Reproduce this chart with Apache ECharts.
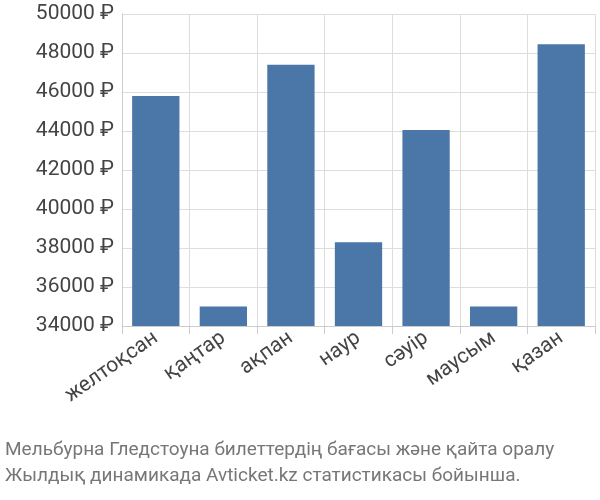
<!DOCTYPE html>
<html><head><meta charset="utf-8">
<script src="https://cdn.jsdelivr.net/npm/echarts@6/dist/echarts.min.js"></script>
<style>html,body{margin:0;padding:0;background:#fff}#c{width:600px;height:500px}</style>
</head><body><div id="c"></div>
<script>
const categories = ["желтоқсан","қаңтар","ақпан","наур","сәуір","маусым","қазан"];
const values = [45800, 35000, 47400, 38300, 44050, 35000, 48450];
const titleLines = ["Мельбурна Гледстоуна билеттердің бағасы және қайта оралу","Жылдық динамикада Avticket.kz статистикасы бойынша."];
const chart = echarts.init(document.getElementById('c'));
chart.setOption({
  animation:false,
  grid:{left:122,right:5,top:14,bottom:174},
  title:{text:titleLines.join('\n'),left:0,top:432,
    textStyle:{color:'#777',fontSize:19,fontWeight:'normal',fontFamily:'Roboto',lineHeight:26}},
  xAxis:{type:'category',data:categories,
    axisLine:{lineStyle:{color:'#ccc'}},
    axisTick:{show:true,alignWithLabel:false,length:8,lineStyle:{color:'#ccc'}},
    splitLine:{show:true,lineStyle:{color:'#ddd'}},
    axisLabel:{rotate:35,fontSize:21,color:'#444',fontFamily:'Roboto',margin:10}},
  yAxis:{type:'value',min:34000,max:50000,interval:2000,
    axisLine:{show:true,lineStyle:{color:'#ccc'}},
    splitLine:{lineStyle:{color:'#ddd'}},
    axisLabel:{formatter:v=>v+' ₽',fontSize:21,color:'#444',fontFamily:'Roboto'}},
  series:[{type:'bar',data:values,barWidth:'70%',itemStyle:{color:'#4a76a8'}}]
});
</script></body></html>
